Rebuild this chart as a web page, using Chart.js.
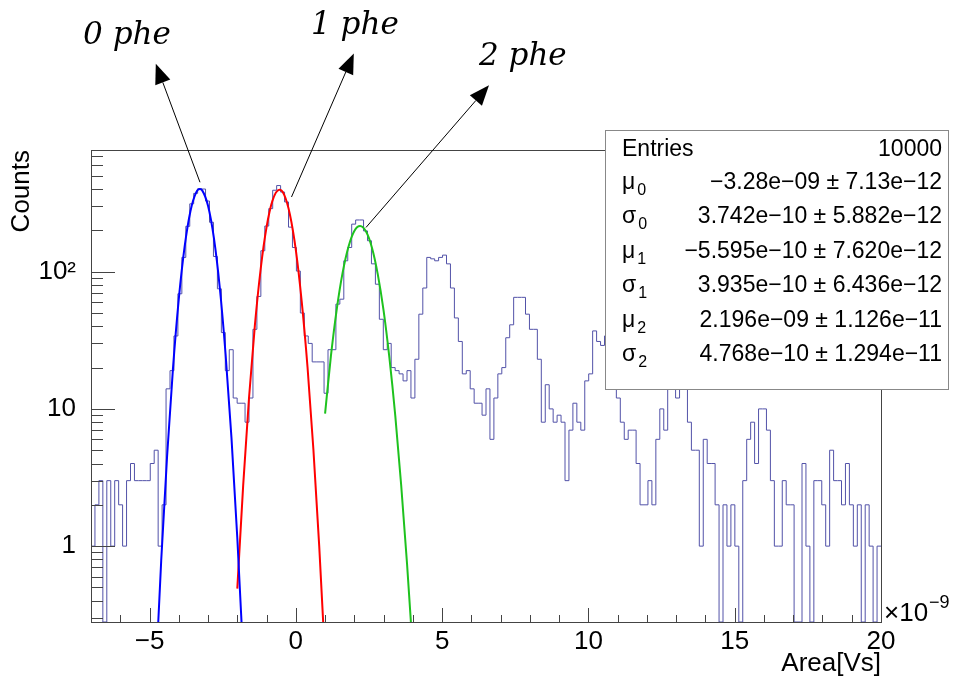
<!DOCTYPE html>
<html>
<head>
<meta charset="utf-8">
<script src="https://cdn.jsdelivr.net/npm/chart.js@4.4.0/dist/chart.umd.min.js"></script>
<style>
    html, body { margin: 0; padding: 0; background: #fff; }
</style>
</head>
<body>
<canvas id="myChart" width="961" height="682"></canvas>
<script>

// histogram binning (200 bins from -7 to 20, x in units of 1e-9 Vs)
var binLow = -7;
var binHigh = 20;
var counts = [
    1, 2, 3, 0, 3, 1, 3, 2, 1, 3,
    4, 3, 3, 3, 3, 4, 5, 1, 2, 14,
    19, 34, 69, 127, 214, 312, 372, 402, 400, 327,
    229, 129, 75, 36, 19, 27, 12, 11, 11, 8,
    12, 38, 66, 142, 215, 288, 392, 424, 380, 322,
    211, 150, 101, 50, 34, 30, 22, 22, 22, 13,
    27, 27, 58, 63, 120, 150, 222, 238, 238, 198,
    168, 114, 81, 45, 27, 30, 20, 19, 18, 16,
    19, 12, 23, 49, 76, 127, 124, 120, 127, 132,
    114, 76, 46, 31, 18, 19, 14, 11, 11, 9,
    14, 6, 12, 18, 20, 33, 41, 65, 65, 65,
    49, 38, 38, 23, 8, 15, 10, 8, 9, 8,
    3, 7, 11, 8, 7, 16, 18, 37, 31, 29,
    34, 26, 18, 12, 8, 6, 7, 7, 4, 2,
    2, 3, 2, 6, 10, 7, 16, 18, 12, 17,
    15, 8, 5, 5, 1, 6, 4, 4, 2, 0,
    2, 1, 2, 1, 0, 3, 6, 8, 4, 10,
    10, 7, 3, 1, 1, 3, 2, 2, 0, 0,
    4, 1, 0, 3, 3, 2, 1, 5, 3, 3,
    2, 4, 2, 1, 2, 0, 2, 1, 0, 1
];

// fitted gaussians
var fit0X = [-4.8, -4.6, -4.4, -4.2, -4.0, -3.8, -3.6, -3.4, -3.28, -3.2, -3.0, -2.8, -2.6, -2.4, -2.2, -2.0, -1.8];
var fit0Y = [0.10, 0.79, 4.5, 19.5, 63, 152, 277, 380, 400, 391, 302, 176, 77, 25, 6.2, 1.15, 0.16];
var fit1X = [-2.0, -1.8, -1.6, -1.4, -1.2, -1.0, -0.8, -0.56, -0.4, -0.2, 0.0, 0.2, 0.4, 0.6, 0.8, 1.0];
var fit1Y = [0.49, 2.75, 12.0, 40.4, 105, 211, 328, 395, 364, 260, 144, 61, 20.2, 5.1, 1.0, 0.15];
var fit2X = [1.0, 1.2, 1.4, 1.6, 1.8, 2.0, 2.196, 2.4, 2.6, 2.8, 3.0, 3.2, 3.4, 3.6, 3.8, 4.0];
var fit2Y = [9.25, 24.3, 53.4, 98.4, 152, 198, 215, 196, 150, 96, 52, 23.4, 8.9, 2.8, 0.75, 0.17];

var yMin = 0.28;
var yMax = 770;
var yTickValues = [1, 10, 100];
var yTickLabels = ['1', '10', '10\u00b2'];

var statNames = ['Entries', '\u03bc_0', '\u03c3_0', '\u03bc_1', '\u03c3_1', '\u03bc_2', '\u03c3_2'];
var statValues = [
    '10000',
    '\u22123.28e\u221209 \u00b1 7.13e\u221212',
    '3.742e\u221210 \u00b1 5.882e\u221212',
    '\u22125.595e\u221210 \u00b1 7.620e\u221212',
    '3.935e\u221210 \u00b1 6.436e\u221212',
    '2.196e\u221209 \u00b1 1.126e\u221211',
    '4.768e\u221210 \u00b1 1.294e\u221211'
];

// peak labels and arrows, in data coordinates (x, counts)
var pheLabels = ['0 phe', '1 phe', '2 phe'];
var pheLabelPos = [[-7.27, 4585], [0.52, 5420], [6.26, 3187]];
var arrowFrom = [[-3.275, 448], [-0.148, 350], [2.399, 210]];
var arrowTo = [[-4.785, 3280], [1.982, 3880], [6.602, 2279]];

var FONT = 'Liberation Sans';
Chart.defaults.font.family = FONT;
Chart.defaults.color = '#000';

var binW = (binHigh - binLow) / counts.length;
var histPoints = counts.map(function (c, i) {
    return { x: binLow + i * binW, y: Math.max(c, yMin) };
});
histPoints.push({ x: binHigh, y: Math.max(counts[counts.length - 1], yMin) });

function toPoints(xs, ys) {
    return xs.map(function (x, i) { return { x: x, y: ys[i] }; });
}

function minus(v) {
    return v < 0 ? '\u2212' + Math.abs(v) : String(v);
}

function arrow(ctx, x0, y0, x1, y1) {
    var ang = Math.atan2(y1 - y0, x1 - x0);
    var len = 20, hw = 8;
    var bx = x1 - len * Math.cos(ang), by = y1 - len * Math.sin(ang);
    ctx.beginPath();
    ctx.moveTo(x0, y0);
    ctx.lineTo(bx, by);
    ctx.stroke();
    ctx.beginPath();
    ctx.moveTo(x1, y1);
    ctx.lineTo(bx + hw * Math.sin(ang), by - hw * Math.cos(ang));
    ctx.lineTo(bx - hw * Math.sin(ang), by + hw * Math.cos(ang));
    ctx.closePath();
    ctx.fill();
}

var rootStyle = {
    id: 'rootStyle',
    afterDatasetsDraw: function (chart) {
        var ctx = chart.ctx, a = chart.chartArea;
        var xs = chart.scales.x, ys = chart.scales.y;
        ctx.save();
        // frame
        ctx.strokeStyle = '#444';
        ctx.lineWidth = 1;
        ctx.strokeRect(a.left + 0.5, a.top + 0.5, a.right - a.left, a.bottom - a.top);
        // x ticks (inside)
        ctx.beginPath();
        for (var v = Math.ceil(xs.min); v <= xs.max; v++) {
            var px = Math.round(xs.getPixelForValue(v)) + 0.5;
            var len = (v % 5 === 0) ? 14 : 7;
            ctx.moveTo(px, a.bottom);
            ctx.lineTo(px, a.bottom - len);
        }
        // y ticks (inside, log)
        for (var k = -1; k <= 2; k++) {
            for (var m = 1; m <= 9; m++) {
                var val = m * Math.pow(10, k);
                if (val < ys.min || val > ys.max) continue;
                var py = Math.round(ys.getPixelForValue(val)) + 0.5;
                ctx.moveTo(a.left, py);
                ctx.lineTo(a.left + (m === 1 ? 24 : 12), py);
            }
        }
        ctx.stroke();

        // x10^-9
        ctx.fillStyle = '#000';
        ctx.textBaseline = 'alphabetic';
        ctx.textAlign = 'left';
        ctx.font = '26px "' + FONT + '"';
        ctx.fillText('\u00d710', a.right + 3, a.bottom - 1);
        var w = ctx.measureText('\u00d710').width;
        ctx.font = '18px "' + FONT + '"';
        ctx.fillText('\u22129', a.right + 4 + w, a.bottom - 14);

        // stats box
        var bx0 = 605, by0 = 130, bx1 = 948, by1 = 389;
        ctx.fillStyle = '#fff';
        ctx.fillRect(bx0, by0, bx1 - bx0, by1 - by0);
        ctx.strokeStyle = '#888';
        ctx.strokeRect(bx0 + 0.5, by0 + 0.5, bx1 - bx0, by1 - by0);
        var rows = [150, 183, 217, 252, 286, 321, 355];
        ctx.fillStyle = '#000';
        ctx.textBaseline = 'middle';
        for (var r = 0; r < statNames.length; r++) {
            var parts = statNames[r].split('_');
            ctx.font = '23px "' + FONT + '"';
            ctx.textAlign = 'left';
            ctx.fillText(parts[0], 622, rows[r]);
            if (parts[1]) {
                var sw = ctx.measureText(parts[0]).width;
                ctx.font = '16px "' + FONT + '"';
                ctx.fillText(parts[1], 622 + sw + 2, rows[r] + 8);
                ctx.font = '23px "' + FONT + '"';
            }
            ctx.textAlign = 'right';
            ctx.fillText(statValues[r], 942, rows[r]);
        }

        // arrows and peak labels
        ctx.strokeStyle = '#000';
        ctx.fillStyle = '#000';
        ctx.lineWidth = 1;
        for (var i = 0; i < arrowFrom.length; i++) {
            arrow(ctx,
                xs.getPixelForValue(arrowFrom[i][0]), ys.getPixelForValue(arrowFrom[i][1]),
                xs.getPixelForValue(arrowTo[i][0]), ys.getPixelForValue(arrowTo[i][1]));
        }
        ctx.font = 'italic 31px "DejaVu Serif"';
        ctx.textAlign = 'left';
        ctx.textBaseline = 'alphabetic';
        for (var j = 0; j < pheLabels.length; j++) {
            ctx.fillText(pheLabels[j],
                xs.getPixelForValue(pheLabelPos[j][0]), ys.getPixelForValue(pheLabelPos[j][1]));
        }
        ctx.restore();
    }
};

var myChart = new Chart(document.getElementById('myChart'), {
    type: 'line',
    data: {
        datasets: [
            { data: toPoints(fit0X, fit0Y), borderColor: '#0000ff', borderWidth: 2, pointRadius: 0, cubicInterpolationMode: 'monotone', clip: 0 },
            { data: toPoints(fit1X, fit1Y), borderColor: '#ff0000', borderWidth: 2, pointRadius: 0, cubicInterpolationMode: 'monotone', clip: 0 },
            { data: toPoints(fit2X, fit2Y), borderColor: '#1ec21e', borderWidth: 2, pointRadius: 0, cubicInterpolationMode: 'monotone', clip: 0 },
            { data: histPoints, borderColor: '#5252a8', borderWidth: 1, pointRadius: 0, stepped: 'before', clip: 0 }
        ]
    },
    options: {
        responsive: false,
        animation: false,
        devicePixelRatio: 1,
        parsing: false,
        layout: { padding: { left: 0, top: 150, right: 80, bottom: 0 } },
        plugins: { legend: { display: false }, tooltip: { enabled: false } },
        scales: {
            x: {
                type: 'linear',
                min: binLow,
                max: binHigh,
                grid: { display: false, drawTicks: false },
                border: { display: false },
                ticks: {
                    stepSize: 5, includeBounds: false, maxRotation: 0, autoSkip: false,
                    padding: 4, color: '#000', font: { size: 26 },
                    callback: function (v) { return minus(v); }
                },
                title: { display: true, text: 'Area[Vs]', align: 'end', color: '#000', font: { size: 26 }, padding: { top: 0, bottom: 3 } },
                afterFit: function (s) { s.height = 60; }
            },
            y: {
                type: 'logarithmic',
                min: yMin,
                max: yMax,
                grid: { display: false, drawTicks: false },
                border: { display: false },
                afterBuildTicks: function (s) {
                    s.ticks = yTickValues.map(function (v) { return { value: v }; });
                },
                ticks: {
                    autoSkip: false, padding: 15, color: '#000', font: { size: 26 },
                    callback: function (v) { return yTickLabels[yTickValues.indexOf(v)]; }
                },
                title: { display: true, text: 'Counts', align: 'end', color: '#000', font: { size: 26 }, padding: { top: 6, bottom: 0 } },
                afterFit: function (s) { s.width = 91; }
            }
        }
    },
    plugins: [rootStyle]
});
</script>
</body>
</html>
